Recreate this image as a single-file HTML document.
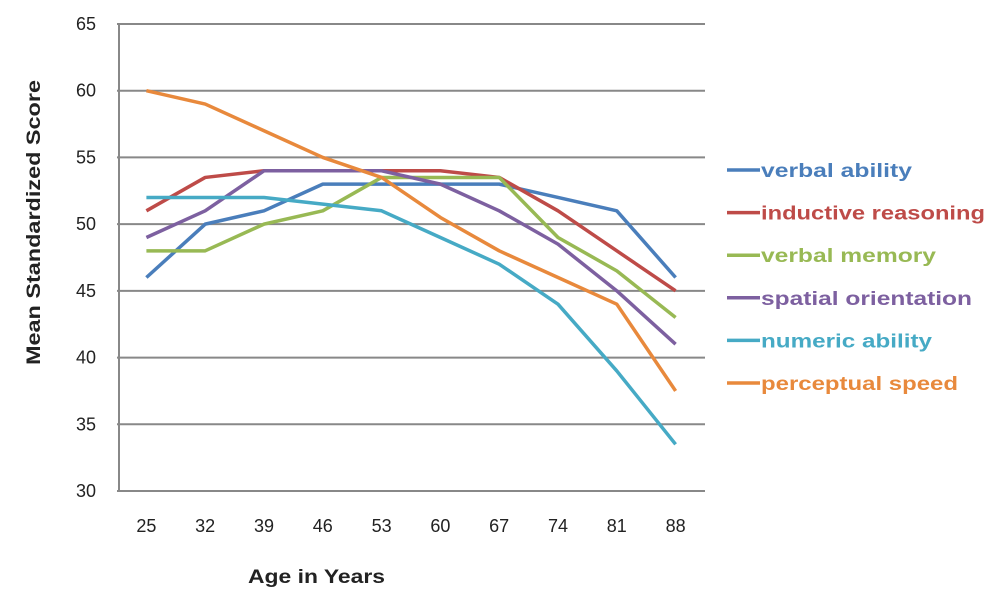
<!DOCTYPE html>
<html><head><meta charset="utf-8"><style>
body{margin:0;background:#fff;font-family:"Liberation Sans",sans-serif}
</style></head><body>
<svg id="chart" width="994" height="596" xmlns="http://www.w3.org/2000/svg"></svg>
<script>
const categories=[25,32,39,46,53,60,67,74,81,88];
const yTicks=[30,35,40,45,50,55,60,65];
const seriesNames=["verbal ability","inductive reasoning","verbal memory","spatial orientation","numeric ability","perceptual speed"];
const verbalAbility=[46,50,51,53,53,53,53,52,51,46];
const inductiveReasoning=[51,53.5,54,54,54,54,53.5,51,48,45];
const verbalMemory=[48,48,50,51,53.5,53.5,53.5,49,46.5,43];
const spatialOrientation=[49,51,54,54,54,53,51,48.5,45,41];
const numericAbility=[52,52,52,51.5,51,49,47,44,39,33.5];
const perceptualSpeed=[60,59,57,55,53.5,50.5,48,46,44,37.5];
const seriesData=[verbalAbility,inductiveReasoning,verbalMemory,spatialOrientation,numericAbility,perceptualSpeed];
const colors=["#4a7ebb","#be4b48","#98b954","#7d60a0","#46aac5","#e8893c"];
const legendWidths=[151,224,175,211,171,197];
const svg=document.getElementById('chart');
const NS="http://www.w3.org/2000/svg";
const L=117,R=705,T=24,B=491;
const x=i=>L+(R-L)/categories.length*(i+0.5);
const y=v=>B-(v-30)/35*(B-T);
function mk(t,a){const e=document.createElementNS(NS,t);for(const k in a)e.setAttribute(k,a[k]);svg.appendChild(e);return e;}
yTicks.forEach(v=>{
  const g=mk('line',{x1:L,x2:R,y1:y(v),y2:y(v),stroke:'#888','stroke-width':2});
  
  
  const t=mk('text',{x:96,y:y(v)+6,'text-anchor':'end','font-size':18,fill:'#222'});t.textContent=v;
  
  
});
const ax=mk('line',{x1:L+2,x2:L+2,y1:T,y2:B,stroke:'#888','stroke-width':2});


categories.forEach((c,i)=>{
  const t=mk('text',{x:x(i),y:532,'text-anchor':'middle','font-size':18,fill:'#222'});t.textContent=c;
  
  
});
seriesData.forEach((d,s)=>{
  const p=mk('polyline',{points:d.map((v,i)=>x(i)+','+y(v)).join(' '),fill:'none',stroke:colors[s],'stroke-width':3.5,'stroke-linejoin':'round'});
  
  
  const ly=170+s*42.6;
  const ln=mk('line',{x1:727,x2:760,y1:ly,y2:ly,stroke:colors[s],'stroke-width':3.5});
  
  
  const t=mk('text',{x:761,y:ly+7,'font-size':19,'font-weight':'bold',fill:colors[s],textLength:legendWidths[s],lengthAdjust:'spacingAndGlyphs'});t.textContent=seriesNames[s];
  
  
});
const xt=mk('text',{x:248,y:583,'font-size':19,'font-weight':'bold',fill:'#222',textLength:137,lengthAdjust:'spacingAndGlyphs'});xt.textContent='Age in Years';


const yt=mk('text',{x:0,y:0,'font-size':19,'font-weight':'bold',fill:'#222',textLength:285,lengthAdjust:'spacingAndGlyphs',transform:'translate(40,365) rotate(-90)'});yt.textContent='Mean Standardized Score';


</script>
</body></html>
